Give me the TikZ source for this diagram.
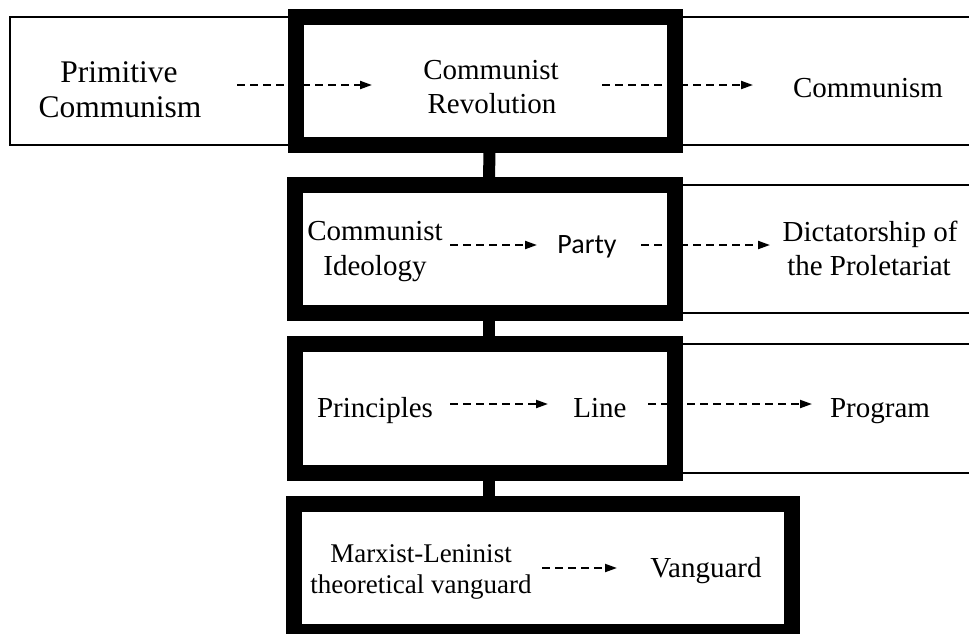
\documentclass[tikz,border=0pt]{standalone}
\usepackage{fontspec}
\setmainfont{Liberation Serif}
\newfontfamily\partyfont{Carlito}
\usetikzlibrary{arrows.meta}
\pgfdeclarelayer{back}
\pgfsetlayers{back,main}
\begin{document}
\begin{tikzpicture}[x=1pt,y=-1pt,
  thickbox/.style={draw=black, line width=16pt, rectangle, outer sep=0pt, inner sep=0pt},
  thinline/.style={line width=1.6pt},
  conn/.style={line width=12pt},
  dasharrow/.style={line width=2pt, dash pattern=on 8pt off 5pt, -{Triangle[length=12pt,width=8pt]}},
  lbl/.style={anchor=base, inner sep=0pt, font=\fontsize{29}{34}\selectfont},
  biglbl/.style={lbl, font=\fontsize{31.5}{35}\selectfont},
  smalllbl/.style={lbl, font=\fontsize{27}{31}\selectfont},
  partylbl/.style={anchor=base, inner sep=0pt, font=\partyfont\fontsize{28}{33}\selectfont}]
\useasboundingbox (0,0) rectangle (969,633);

% thick boxes
\node[thickbox, minimum width=379pt, minimum height=128pt] (b1) at (485.5,81) {};
\node[thickbox, minimum width=380pt, minimum height=128pt] (b2) at (485,249) {};
\node[thickbox, minimum width=380pt, minimum height=129pt] (b3) at (485,408.5) {};
\node[thickbox, minimum width=498pt, minimum height=128pt] (b4) at (543,568) {};

% connectors between boxes
\draw[conn] ([xshift=4pt]b1.south) -- ([xshift=4pt]b2.north);
\draw[conn] ([xshift=4pt]b2.south) -- ([xshift=4pt]b3.north);
\draw[conn] ([xshift=4pt]b3.south) -- ([xshift=4pt]b3.south |- b4.north);

% labels
\node[biglbl] (prim1) at (119,82) {Primitive};
\node[biglbl] (prim2) at (120,117) {Communism};
\node[lbl] (rev1) at (491,79) {Communist};
\node[lbl] (rev2) at (492,113) {Revolution};
\node[lbl] (com) at (868,97) {Communism};
\node[lbl] (ideo1) at (375,240) {Communist};
\node[lbl] (ideo2) at (375,275) {Ideology};
\node[partylbl] (party) at (587,253) {Party};
\node[lbl] (dict1) at (870,241) {Dictatorship of};
\node[lbl] (dict2) at (869,275) {the Proletariat};
\node[lbl] (prin) at (375,417) {Principles};
\node[lbl] (line) at (600,417) {Line};
\node[lbl] (prog) at (880,417) {Program};
\node[smalllbl] (mar1) at (421,562) {Marxist-Leninist};
\node[smalllbl] (mar2) at (421,593) {theoretical vanguard};
\node[lbl] (van) at (706,577) {Vanguard};

% arrow end points
\coordinate (r1a) at (237,85);  \coordinate (r1b) at (372,85);
\coordinate (r1c) at (602,85);  \coordinate (r1d) at (753,85);
\coordinate (r2a) at (450,245); \coordinate (r2b) at (537,245);
\coordinate (r2c) at (641,245); \coordinate (r2d) at (770,245);
\coordinate (r3a) at (450,404); \coordinate (r3b) at (548,404);
\coordinate (r3c) at (648,404); \coordinate (r3d) at (812,404);
\coordinate (r4a) at (542,568); \coordinate (r4b) at (617,568);
\coordinate (lft) at (10,0);
\coordinate (rgt) at (985,0);

\begin{pgfonlayer}{back}
  % thin frames
  \draw[thinline] (b1.north west) -- (b1.north west -| lft) -- (b1.south west -| lft) -- (b1.south west);
  \draw[thinline] (b1.north east) -- (b1.north east -| rgt);
  \draw[thinline] (b1.south east) -- (b1.south east -| rgt);
  \draw[thinline] (b2.north east) -- (b2.north east -| rgt);
  \draw[thinline] (b2.south east) -- (b2.south east -| rgt);
  \draw[thinline] (b3.north east) -- (b3.north east -| rgt);
  \draw[thinline] (b3.south east) -- (b3.south east -| rgt);
  % dashed arrows
  \draw[dasharrow] (r1a) -- (r1b);
  \draw[dasharrow] (r1c) -- (r1d);
  \draw[dasharrow] (r2a) -- (r2b);
  \draw[dasharrow] (r2c) -- (r2d);
  \draw[dasharrow] (r3a) -- (r3b);
  \draw[dasharrow] (r3c) -- (r3d);
  \draw[dasharrow] (r4a) -- (r4b);
\end{pgfonlayer}
\end{tikzpicture}
\end{document}
